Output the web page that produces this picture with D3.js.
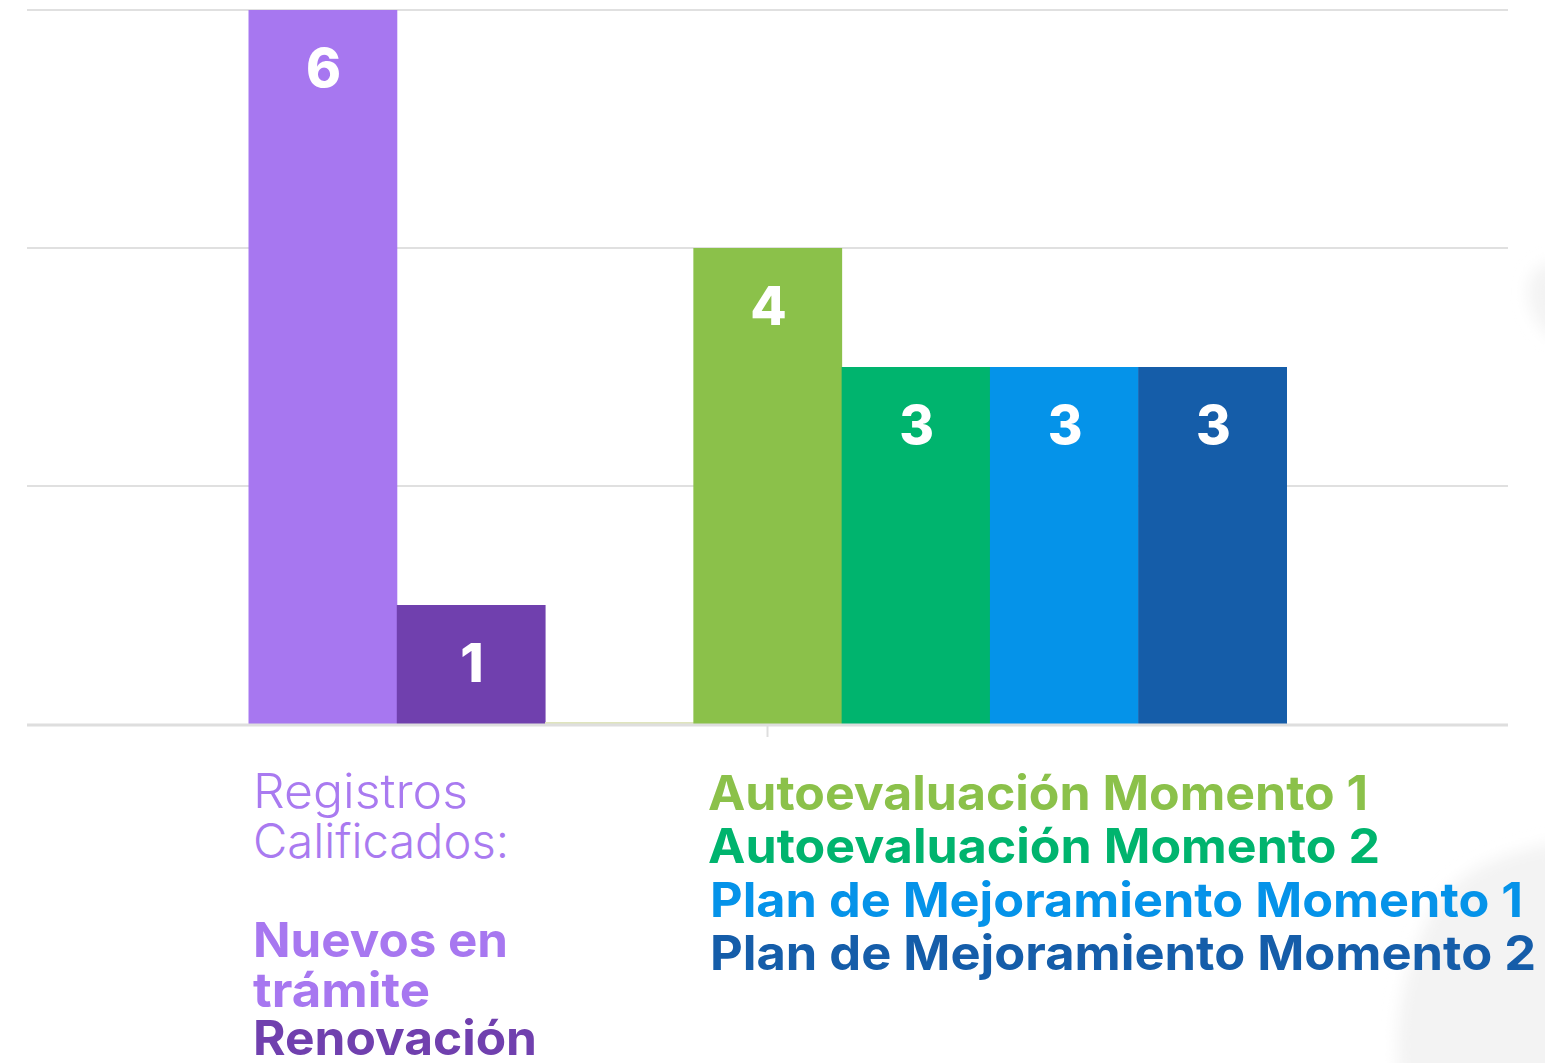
<!DOCTYPE html>
<html>
<head>
<meta charset="utf-8">
<script src="https://cdn.jsdelivr.net/npm/d3@7"></script>
<style>
  html, body { margin: 0; padding: 0; background: #ffffff; }
  svg { display: block; }
  text { font-family: Inter, "Open Sans", sans-serif; }
</style>
</head>
<body>
<svg id="chart" width="1545" height="1063"></svg>
<script>
// ---- data ----
const categories = [""];
const seriesNames = [
  "Nuevos en trámite",
  "Renovación",
  "Sin valor",
  "Autoevaluación Momento 1",
  "Autoevaluación Momento 2",
  "Plan de Mejoramiento Momento 1",
  "Plan de Mejoramiento Momento 2"
];
const seriesValues = [6, 1, 0, 4, 3, 3, 3];
const seriesColors = ["#a777f0", "#7040ae", "#dfe4bd", "#8bc14a", "#00b46e", "#0593e9", "#155da9"];
const yTicks = [0, 2, 4, 6];

const leftLegendLines = [
  { text: "Registros", weight: 300, color: "#a97af0" },
  { text: "Calificados:", weight: 300, color: "#a97af0" },
  { text: "Nuevos en", weight: 700, color: "#a777f0" },
  { text: "trámite", weight: 700, color: "#a777f0" },
  { text: "Renovación", weight: 700, color: "#7040ae" }
];
const rightLegendLines = [
  { text: "Autoevaluación Momento 1", color: "#8bc14a" },
  { text: "Autoevaluación Momento 2", color: "#00b46e" },
  { text: "Plan de Mejoramiento Momento 1", color: "#0593e9" },
  { text: "Plan de Mejoramiento Momento 2", color: "#155da9" }
];

// ---- layout ----
const svg = d3.select("#chart");
const plot = { left: 27, right: 1508, top: 10, bottom: 724 };

// faint background decoration
const defs = svg.append("defs");
defs.append("filter").attr("id", "blur").append("feGaussianBlur").attr("stdDeviation", 8);
const deco = svg.append("g").attr("filter", "url(#blur)").attr("fill", "#f3f3f3");
deco.append("path").attr("d", "M1528,290 C1531,268 1545,262 1560,262 L1560,340 C1545,336 1530,318 1528,290 Z");
deco.append("path").attr("d", "M1400,1080 C1392,1020 1405,965 1432,912 C1452,876 1492,855 1560,842 L1560,1080 Z");

const x0 = d3.scaleBand().domain(categories).range([plot.left, plot.right]).paddingInner(0).paddingOuter(0.2134);
const x1 = d3.scaleBand().domain(seriesNames).range([0, x0.bandwidth()]);
const y = d3.scaleLinear().domain([0, 6]).range([plot.bottom, plot.top]);

// gridlines
svg.append("g")
  .selectAll("line")
  .data(yTicks.filter(d => d > 0))
  .join("line")
  .attr("x1", plot.left).attr("x2", plot.right)
  .attr("y1", d => y(d)).attr("y2", d => y(d))
  .attr("stroke", "#e0e0e0").attr("stroke-width", 2);

// bars
const g = svg.append("g").attr("transform", `translate(${x0(categories[0])},0)`);
const data = seriesNames.map((n, i) => ({ name: n, value: seriesValues[i], color: seriesColors[i] }));
g.selectAll("rect")
  .data(data)
  .join("rect")
  .attr("x", d => x1(d.name))
  .attr("width", x1.bandwidth() + 0.5)
  .attr("y", d => d.value === 0 ? y(0) - 2 : y(d.value))
  .attr("height", d => d.value === 0 ? 2 : y(0) - y(d.value))
  .attr("fill", d => d.color);

// value labels
g.selectAll("text.val")
  .data(data.filter(d => d.value > 0))
  .join("text")
  .attr("class", "val")
  .attr("x", d => x1(d.name) + x1.bandwidth() / 2 + 1)
  .attr("y", d => y(d.value) + 77)
  .attr("text-anchor", "middle")
  .attr("fill", "#ffffff")
  .attr("font-size", 53)
  .attr("font-weight", 800)
  .text(d => d.value);

// x axis
const xAxis = d3.axisBottom(x0).tickSize(12).tickFormat("");
const ax = svg.append("g").attr("transform", `translate(0,${plot.bottom + 1})`).call(xAxis);
ax.select(".domain").attr("stroke", "#dedede").attr("stroke-width", 3).attr("d", `M${plot.left},0H${plot.right}`);
ax.selectAll(".tick line").attr("stroke", "#dedede").attr("stroke-width", 2);

// left legend text
const leftBase = [808, 858, 957, 1007, 1055];
const leftWidths = [215, 256, 255, 177, 284];
svg.append("g").selectAll("text")
  .data(leftLegendLines)
  .join("text")
  .attr("x", 253)
  .attr("y", (d, i) => leftBase[i])
  .attr("font-size", 48)
  .attr("font-weight", d => d.weight)
  .attr("fill", d => d.color)
  .attr("textLength", (d, i) => leftWidths[i])
  .attr("lengthAdjust", "spacingAndGlyphs")
  .text(d => d.text);

// right legend text
const rightBase = [810, 863, 917, 970];
const rightWidths = [660, 672, 813, 826];
svg.append("g").selectAll("text")
  .data(rightLegendLines)
  .join("text")
  .attr("x", (d, i) => i < 2 ? 708 : 710)
  .attr("y", (d, i) => rightBase[i])
  .attr("font-size", 48)
  .attr("font-weight", 700)
  .attr("fill", d => d.color)
  .attr("textLength", (d, i) => rightWidths[i])
  .attr("lengthAdjust", "spacingAndGlyphs")
  .text(d => d.text);
</script>
</body>
</html>
